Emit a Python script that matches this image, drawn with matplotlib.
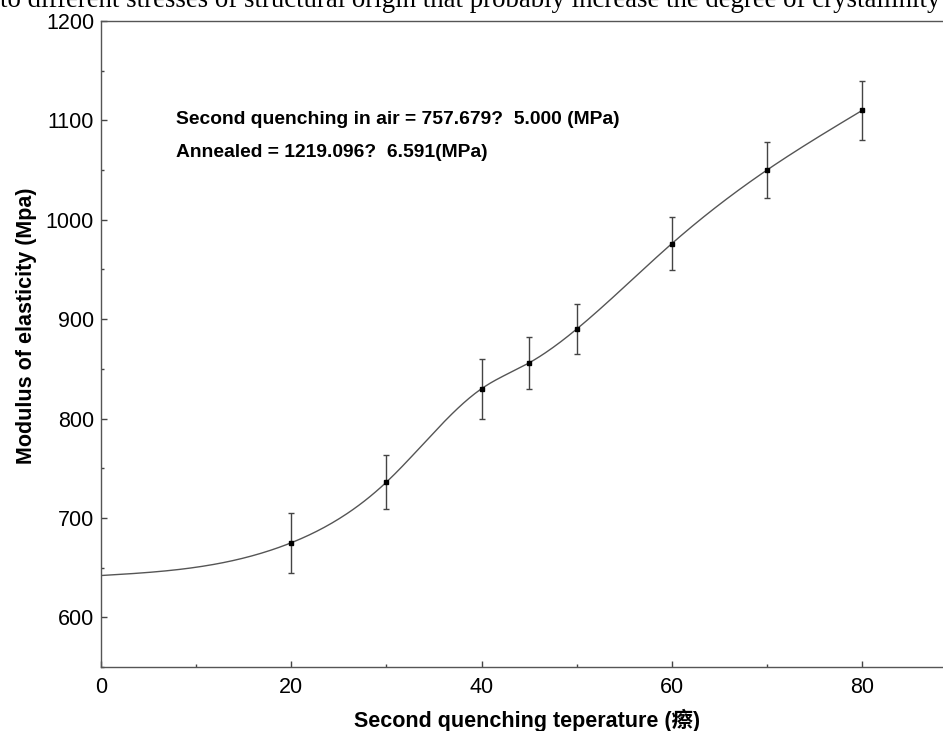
import numpy as np
import matplotlib.pyplot as plt
from matplotlib.ticker import MultipleLocator

# data
temp = [20, 30, 40, 45, 50, 60, 70, 80]
modulus = [675, 736, 830, 856, 890, 976, 1050, 1110]
err = [30, 27, 30, 26, 25, 27, 28, 30]

# the fitted curve also starts at x = 0
curve_x = [0] + temp
curve_y = [642] + modulus


def natural_spline(x, y, xs):
    x = np.asarray(x, float)
    y = np.asarray(y, float)
    n = len(x)
    h = np.diff(x)
    A = np.zeros((n, n))
    b = np.zeros(n)
    A[0, 0] = A[-1, -1] = 1
    for i in range(1, n - 1):
        A[i, i - 1] = h[i - 1]
        A[i, i] = 2 * (h[i - 1] + h[i])
        A[i, i + 1] = h[i]
        b[i] = 6 * ((y[i + 1] - y[i]) / h[i] - (y[i] - y[i - 1]) / h[i - 1])
    m = np.linalg.solve(A, b)
    idx = np.clip(np.searchsorted(x, xs) - 1, 0, n - 2)
    t = xs - x[idx]
    hi = h[idx]
    a = y[idx]
    bb = (y[idx + 1] - y[idx]) / hi - hi * (2 * m[idx] + m[idx + 1]) / 6
    c = m[idx] / 2
    d = (m[idx + 1] - m[idx]) / (6 * hi)
    return a + bb * t + c * t**2 + d * t**3


xs = np.linspace(curve_x[0], curve_x[-1], 400)
ys = natural_spline(curve_x, curve_y, xs)

plt.rcParams["font.family"] = ["Liberation Sans", "Noto Sans CJK SC"]

fig = plt.figure(figsize=(9.43, 7.31), dpi=100)
ax = fig.add_axes([0.1071, 0.0876, 0.8929, 0.8837])

ax.plot(xs, ys, color="#555555", lw=1.0)
ax.errorbar(temp, modulus, yerr=err, fmt="s", color="black", ms=3.5,
            ecolor="#444444", elinewidth=1.0, capsize=2, capthick=1.0)

ax.set_xlim(0, 88.5)
ax.set_ylim(550, 1200)
ax.xaxis.set_major_locator(MultipleLocator(20))
ax.xaxis.set_minor_locator(MultipleLocator(10))
ax.yaxis.set_major_locator(MultipleLocator(100))
ax.yaxis.set_minor_locator(MultipleLocator(50))
ax.tick_params(which="both", direction="in", colors="#444444", labelcolor="black",
               labelsize=15.5)
ax.tick_params(which="major", length=4, width=1)
ax.tick_params(which="minor", length=2, width=1)
ax.tick_params(axis="x", pad=7)
ax.tick_params(axis="y", pad=5)
ax.spines["right"].set_visible(False)
for s in ["left", "bottom", "top"]:
    ax.spines[s].set_color("#555555")
    ax.spines[s].set_linewidth(1.0)

ax.set_xlabel("Second quenching teperature (瘵)", fontsize=15.5, fontweight="bold",
              labelpad=8)
ax.set_ylabel("Modulus of elasticity (Mpa)", fontsize=15.5, fontweight="bold",
              labelpad=6)
ax.xaxis.label.set_x(0.506)
ax.yaxis.label.set_y(0.528)

ax.text(7.9, 1101, "Second quenching in air = 757.679?  5.000 (MPa)",
        fontsize=13.9, fontweight="bold", va="center")
ax.text(7.9, 1068, "Annealed = 1219.096?  6.591(MPa)",
        fontsize=13.9, fontweight="bold", va="center")

fig.text(0.0, 1 - 7 / 731, "to different stresses of structural origin that probably increase the degree of crystallinity",
         family="Liberation Serif", fontsize=19.3, va="baseline", ha="left")

fig.savefig("out.png", dpi=100)
